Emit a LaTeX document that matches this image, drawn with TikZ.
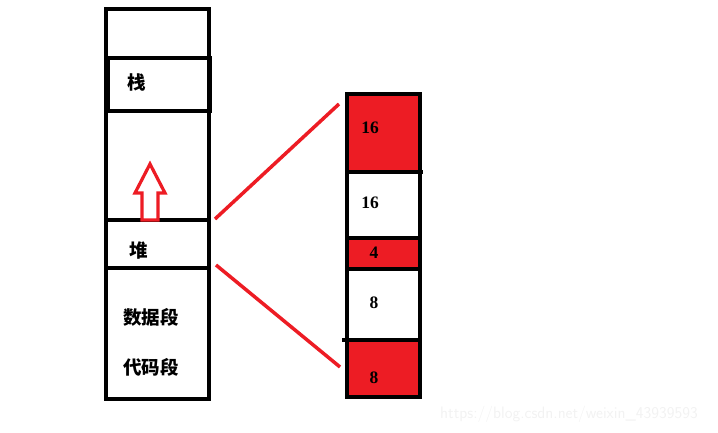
\documentclass[tikz,border=0pt]{standalone}
\usepackage{fontspec}
\setmainfont{Liberation Serif}
\newfontfamily\cjk{Noto Sans CJK SC}
\definecolor{pred}{HTML}{ED1C24}
\begin{document}
\begin{tikzpicture}[x=1pt,y=-1pt,
  blk/.style={draw=black,line width=4pt},
  lbl/.style={font=\cjk\bfseries\fontsize{18.5}{20}\selectfont,inner sep=0pt},
  num/.style={font=\bfseries\fontsize{17.5}{19}\selectfont,inner sep=0pt},
  link/.style={draw=pred,line width=3.5pt},
  wm/.style={font=\sffamily\fontsize{16.5}{18}\selectfont,text=black!5,inner sep=0pt}]
\useasboundingbox (0,0) rectangle (718,433);
% left column
\draw[blk] (106,9) rectangle (209,399);
\draw[blk] (108,58) rectangle (210,111);
\draw[blk] (106,220) rectangle (209,268);
% arrow
\draw[draw=pred,line width=3.2pt,fill=white,line join=miter]
  (150,164) -- (165,193) -- (158,193) -- (158,220) -- (142,220) -- (142,193) -- (135,193) -- cycle;
\node[lbl] (zhan) at (137,82) {栈};
\node[lbl] (dui) at (139,251) {堆};
\node[lbl] (shuju) at (151,317) {数据段};
\node[lbl] (daima) at (151,367) {代码段};
% right column
\fill[pred] (347,93) rectangle (420,172);
\fill[pred] (347,238) rectangle (420,269);
\fill[pred] (347,340) rectangle (420,397);
\draw[blk] (347,94) rectangle (420,397);
\draw[blk] (347,172) -- (423,172);
\draw[blk] (347,238) -- (420,238);
\draw[blk] (347,269) -- (420,269);
\draw[blk] (342,340) -- (420,340);
\node[num] (n1) at (370,128) {16};
\node[num] (n2) at (370,203) {16};
\node[num] (n3) at (374,253) {4};
\node[num] (n4) at (374,303) {8};
\node[num] (n5) at (374,378) {8};
% connectors
\coordinate (a1) at (215,219);
\coordinate (b1) at (339,104);
\coordinate (a2) at (216,265);
\coordinate (b2) at (340,367);
\draw[link] (a1) -- (b1);
\draw[link] (a2) -- (b2);
\node[wm,anchor=west] (wmark) at (440,414) {https://blog.csdn.net/weixin\_43939593};
\end{tikzpicture}
\end{document}
